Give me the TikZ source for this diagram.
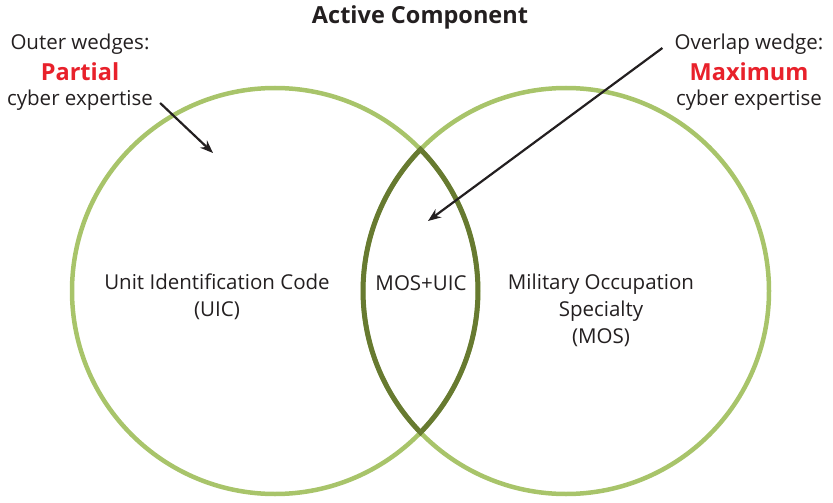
\documentclass[tikz,border=0pt]{standalone}
\usepackage{fontspec}
\setmainfont{Open Sans}
\usetikzlibrary{arrows.meta}
\definecolor{lightgreen}{HTML}{A8C46A}
\definecolor{darkgreen}{HTML}{677A30}
\definecolor{alertred}{HTML}{E8212B}
\definecolor{inkgray}{HTML}{231F20}
\tikzset{
  txt/.style={font=\fontsize{20.5}{27}\selectfont,text=inkgray,align=center,inner sep=0pt},
  hot/.style={font=\fontsize{23.5}{27}\selectfont\bfseries,text=alertred,inner sep=0pt},
  ptr/.style={-{Stealth[length=13pt,width=10pt]},line width=2.2pt,draw=inkgray}
}
\begin{document}
\begin{tikzpicture}[x=1pt,y=1pt]
\def\rad{203}
\def\cy{-291}
\def\xl{275}
\def\xr{566}
\def\ang{44.2}

\useasboundingbox (0,0) rectangle (833,-503);

\draw[lightgreen,line width=4.5pt] (\xl,\cy) circle (\rad);
\draw[lightgreen,line width=4.5pt] (\xr,\cy) circle (\rad);

% overlap wedge
\coordinate (top) at (420.5,{\cy+141.6});
\draw[darkgreen,line width=5pt,line join=miter]
  (top) arc[start angle=\ang,end angle=-\ang,radius=\rad]
  arc[start angle=180+\ang,end angle=180-\ang,radius=\rad] -- cycle;

\node[txt,font=\fontsize{23.5}{27}\selectfont\bfseries] (title) at (420,-17) {Active Component};

\node[txt] (outer) at (80,-44) {Outer wedges:};
\node[hot] (partial) at (80,-72) {Partial};
\node[txt] (cyberl) at (80,-100) {cyber expertise};

\node[txt] (overlap) at (749,-44) {Overlap wedge:};
\node[hot] (maximum) at (749,-72) {Maximum};
\node[txt] (cyberr) at (749,-100) {cyber expertise};

\node[txt] (uic) at (217,-297) {Unit Identification Code\\(UIC)};
\node[txt] (both) at (421,-283) {MOS+UIC};
\node[txt] (mos) at (601,-310) {Military Occupation\\Specialty\\(MOS)};

\coordinate (tipl) at (213,-153);
\coordinate (tipr) at (428,-221);
\draw[ptr] (cyberl.east) ++(7,-3) -- (tipl);
\draw[ptr] (overlap.west) ++(-12,-4) -- (tipr);
\end{tikzpicture}
\end{document}
